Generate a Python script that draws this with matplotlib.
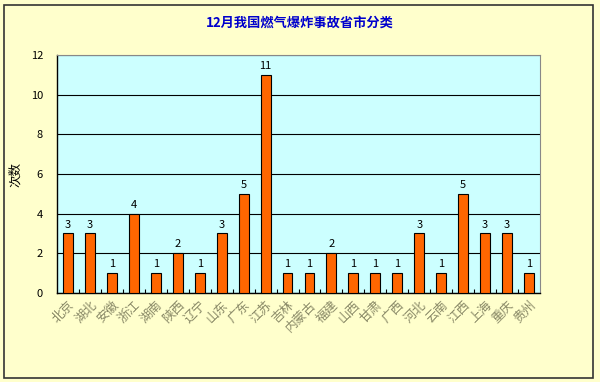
import matplotlib.pyplot as plt
from matplotlib.patches import Rectangle

plt.rcParams['font.family'] = ['Noto Sans CJK SC', 'DejaVu Sans']

provinces = ['北京', '湖北', '安徽', '浙江', '湖南', '陕西', '辽宁', '山东', '广东', '江苏', '吉林',
             '内蒙古', '福建', '山西', '甘肃', '广西', '河北', '云南', '江西', '上海', '重庆', '贵州']
counts = [3, 3, 1, 4, 1, 2, 1, 3, 5, 11, 1, 1, 2, 1, 1, 1, 3, 1, 5, 3, 3, 1]
yticks = [0, 2, 4, 6, 8, 10, 12]

fig = plt.figure(figsize=(6, 3.82), dpi=100, facecolor='#FFFFCC')
fig.patches.append(Rectangle((0.007, 0.01), 0.982, 0.978, transform=fig.transFigure,
                             fill=False, edgecolor='#333333', linewidth=1.2))

ax = fig.add_axes([0.095, 0.233, 0.805, 0.623])
ax.set_facecolor('#CCFFFF')

x = range(len(provinces))
ax.bar(x, counts, width=0.45, color='#FF6600', edgecolor='black', linewidth=0.8, zorder=3)
for xi, v in zip(x, counts):
    ax.text(xi, v + 0.2, str(v), ha='center', va='bottom', fontsize=8, color='black', zorder=4)

ax.set_xlim(-0.5, len(provinces) - 0.5)
ax.set_ylim(0, 12)
ax.set_yticks(yticks)
ax.set_yticklabels([str(t) for t in yticks], fontsize=8)
ax.yaxis.grid(True, color='black', linewidth=0.8, zorder=1)
ax.tick_params(axis='y', length=0, pad=10)

# tick marks between categories, labels centred under bars
ax.set_xticks([i + 0.5 for i in range(len(provinces) - 1)], minor=False)
ax.set_xticklabels([])
ax.tick_params(axis='x', length=3, direction='in', color='black')
ax.set_xticks(list(x), minor=True)
ax.set_xticklabels(provinces, minor=True, rotation=45, ha='right', rotation_mode='anchor',
                   fontsize=9, color='#888866')
ax.tick_params(axis='x', which='minor', length=0, pad=4)

for side in ['top', 'right']:
    ax.spines[side].set_color('#888888')
    ax.spines[side].set_linewidth(0.8)
for side in ['left', 'bottom']:
    ax.spines[side].set_color('black')
    ax.spines[side].set_linewidth(1.0)

ax.set_ylabel('次数', fontsize=9, labelpad=6)
fig.text(0.5, 0.94, '12月我国燃气爆炸事故省市分类', ha='center', va='center',
         fontsize=9.5, fontweight='bold', color='#0000CC')

fig.savefig('out.png', dpi=100, facecolor=fig.get_facecolor())
